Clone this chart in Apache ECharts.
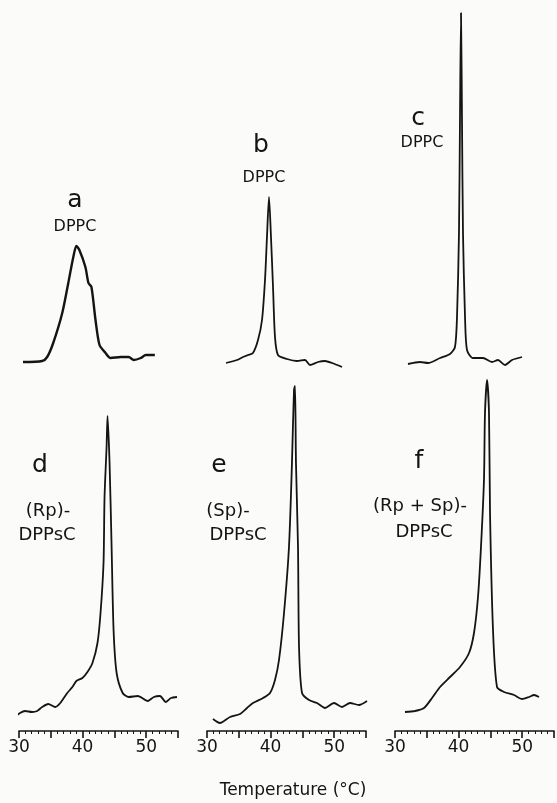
<!DOCTYPE html>
<html>
<head>
<meta charset="utf-8">
<script src="https://cdn.jsdelivr.net/npm/echarts@6/dist/echarts.min.js"></script>
<style>
  html, body { margin: 0; padding: 0; background: #fbfbfa; }
  #chart { width: 557px; height: 803px; }
</style>
</head>
<body>
<div id="chart"></div>
<script>
// thermograms (temperature in degC, excess heat capacity in arbitrary units)
var aTemp = [30.63, 33.64, 34.43, 35.38, 36.80, 37.75, 38.54, 39.02, 39.49, 40.44, 40.92, 41.39, 42.03, 42.66, 43.61, 44.40, 45.98, 47.25, 48.04, 49.15, 49.94, 51.36];
var aHeat = [0.9, 1.0, 1.4, 2.8, 5.8, 8.8, 11.4, 12.5, 12.1, 10.4, 8.8, 8.4, 5.1, 2.6, 1.8, 1.3, 1.4, 1.4, 1.1, 1.3, 1.6, 1.6];

var bTemp = [32.99, 34.72, 35.66, 36.45, 37.23, 38.02, 38.65, 39.12, 39.43, 39.75, 40.06, 40.38, 40.69, 41.16, 42.58, 44.15, 45.41, 46.19, 47.45, 48.55, 49.65, 51.23];
var bHeat = [0.8, 1.1, 1.4, 1.6, 1.8, 3.1, 5.1, 9.1, 13.4, 17.4, 13.4, 8.4, 3.4, 1.6, 1.2, 1.0, 1.1, 0.6, 0.9, 1.0, 0.8, 0.4];

var cTemp = [32.04, 33.93, 35.19, 37.08, 38.65, 39.43, 39.75, 40.06, 40.22, 40.38, 40.53, 40.69, 41.01, 41.32, 42.26, 43.84, 45.25, 46.19, 47.30, 48.40, 49.97];
var cHeat = [0.7, 0.9, 0.8, 1.3, 1.7, 2.4, 5.4, 13.8, 25.4, 35.8, 25.4, 13.8, 5.4, 2.1, 1.3, 1.3, 0.9, 1.1, 0.6, 1.1, 1.4];

var dTemp = [29.05, 30.16, 30.95, 32.06, 32.85, 33.64, 34.59, 35.70, 36.49, 37.59, 38.39, 39.02, 39.97, 40.76, 41.55, 42.34, 42.82, 43.29, 43.45, 43.77, 43.92, 44.24, 44.56, 44.87, 45.35, 46.30, 47.25, 48.67, 50.25, 51.20, 52.15, 53.10, 53.89, 54.84];
var dHeat = [1.3, 1.8, 2.0, 1.9, 2.0, 2.4, 2.7, 2.4, 2.8, 3.8, 4.4, 5.0, 5.3, 5.9, 6.8, 8.8, 11.8, 16.8, 23.4, 28.4, 31.5, 26.8, 18.4, 10.1, 5.8, 3.8, 3.4, 3.5, 3.0, 3.4, 3.5, 2.9, 3.3, 3.4];

var eTemp = [30.94, 32.04, 33.62, 35.19, 36.29, 37.23, 38.81, 39.91, 40.69, 41.32, 42.11, 42.89, 43.36, 43.68, 43.84, 43.99, 44.31, 44.47, 44.94, 46.04, 47.30, 48.55, 49.97, 51.23, 52.48, 53.90, 55.16];
var eHeat = [1.2, 0.8, 1.4, 1.7, 2.3, 2.8, 3.3, 3.8, 5.1, 7.1, 11.8, 18.4, 26.8, 34.1, 34.5, 26.8, 18.4, 8.4, 3.8, 3.1, 2.8, 2.3, 2.8, 2.4, 2.8, 2.6, 3.0];

var fTemp = [31.57, 33.14, 34.56, 35.82, 37.08, 38.65, 40.22, 41.64, 42.42, 43.05, 43.52, 43.99, 44.15, 44.47, 44.78, 44.94, 45.41, 46.04, 47.14, 48.71, 49.97, 51.07, 51.86, 52.64];
var fHeat = [1.9, 2.0, 2.3, 3.3, 4.4, 5.4, 6.4, 7.8, 9.8, 13.4, 18.4, 25.1, 31.8, 35.1, 31.8, 21.8, 10.1, 4.4, 3.9, 3.6, 3.2, 3.4, 3.6, 3.4];

var panelLetters = ['a', 'b', 'c', 'd', 'e', 'f'];
var panelLipids = ['DPPC', 'DPPC', 'DPPC', 'DPPsC', 'DPPsC', 'DPPsC'];
var isomerLabels = ['(Rp)-', '(Sp)-', '(Rp + Sp)-'];
var tempTicks = [30, 40, 50];
var xTitle = 'Temperature (°C)';

var font = 'DejaVu Sans, Liberation Sans, sans-serif';
var ink = '#141414';

function zip(xs, ys) {
  return xs.map(function(x, i) { return [x, ys[i]]; });
}

var chart = echarts.init(document.getElementById('chart'));

var lefts = [19, 207, 395];
var grids = [], xAxes = [], yAxes = [], series = [];
var temps = [aTemp, bTemp, cTemp, dTemp, eTemp, fTemp];
var heats = [aHeat, bHeat, cHeat, dHeat, eHeat, fHeat];

for (var i = 0; i < 6; i++) {
  var bottomRow = i >= 3;
  grids.push({
    left: lefts[i % 3],
    width: 159,
    top: bottomRow ? 371 : 11,
    height: 360
  });
  xAxes.push({
    gridIndex: i,
    type: 'value',
    min: 30,
    max: 55,
    interval: 5,
    show: bottomRow,
    splitLine: { show: false },
    axisLine: { show: true, onZero: false, lineStyle: { color: ink, width: 1.6 } },
    axisTick: { show: true, length: 7, lineStyle: { color: ink, width: 1.6 } },
    minorTick: { show: true, splitNumber: 5, length: 3, lineStyle: { color: ink, width: 1 } },
    axisLabel: {
      margin: 8,
      fontSize: 17,
      fontFamily: font,
      color: ink,
      formatter: function(v) {
        return tempTicks.indexOf(v) >= 0 ? String(v) : '';
      }
    }
  });
  yAxes.push({
    gridIndex: i,
    type: 'value',
    min: 0,
    max: 36,
    show: false
  });
  series.push({
    type: 'line',
    xAxisIndex: i,
    yAxisIndex: i,
    data: zip(temps[i], heats[i]),
    showSymbol: false,
    smooth: 0.25,
    clip: false,
    silent: true,
    lineStyle: { color: ink, width: i === 0 ? 2.4 : 1.8 }
  });
}

function txt(x, y, s, size) {
  return {
    type: 'text',
    x: x,
    y: y,
    style: {
      text: s,
      fill: ink,
      font: size + 'px ' + font,
      align: 'center',
      verticalAlign: 'middle'
    }
  };
}

var graphics = [
  txt(75, 200, panelLetters[0], 25),
  txt(75, 227, panelLipids[0], 16),
  txt(261, 145, panelLetters[1], 25),
  txt(264, 178, panelLipids[1], 16),
  txt(418, 118, panelLetters[2], 25),
  txt(422, 143, panelLipids[2], 16),

  txt(40, 465, panelLetters[3], 25),
  txt(48, 511, isomerLabels[0], 18),
  txt(47, 535, panelLipids[3], 18),
  txt(219, 465, panelLetters[4], 25),
  txt(228, 511, isomerLabels[1], 18),
  txt(238, 535, panelLipids[4], 18),
  txt(419, 461, panelLetters[5], 25),
  txt(420, 506, isomerLabels[2], 18),
  txt(424, 532, panelLipids[5], 18),

  txt(293, 791, xTitle, 17)
];

chart.setOption({
  backgroundColor: '#fbfbfa',
  animation: false,
  grid: grids,
  xAxis: xAxes,
  yAxis: yAxes,
  series: series,
  graphic: graphics
});
</script>
</body>
</html>
